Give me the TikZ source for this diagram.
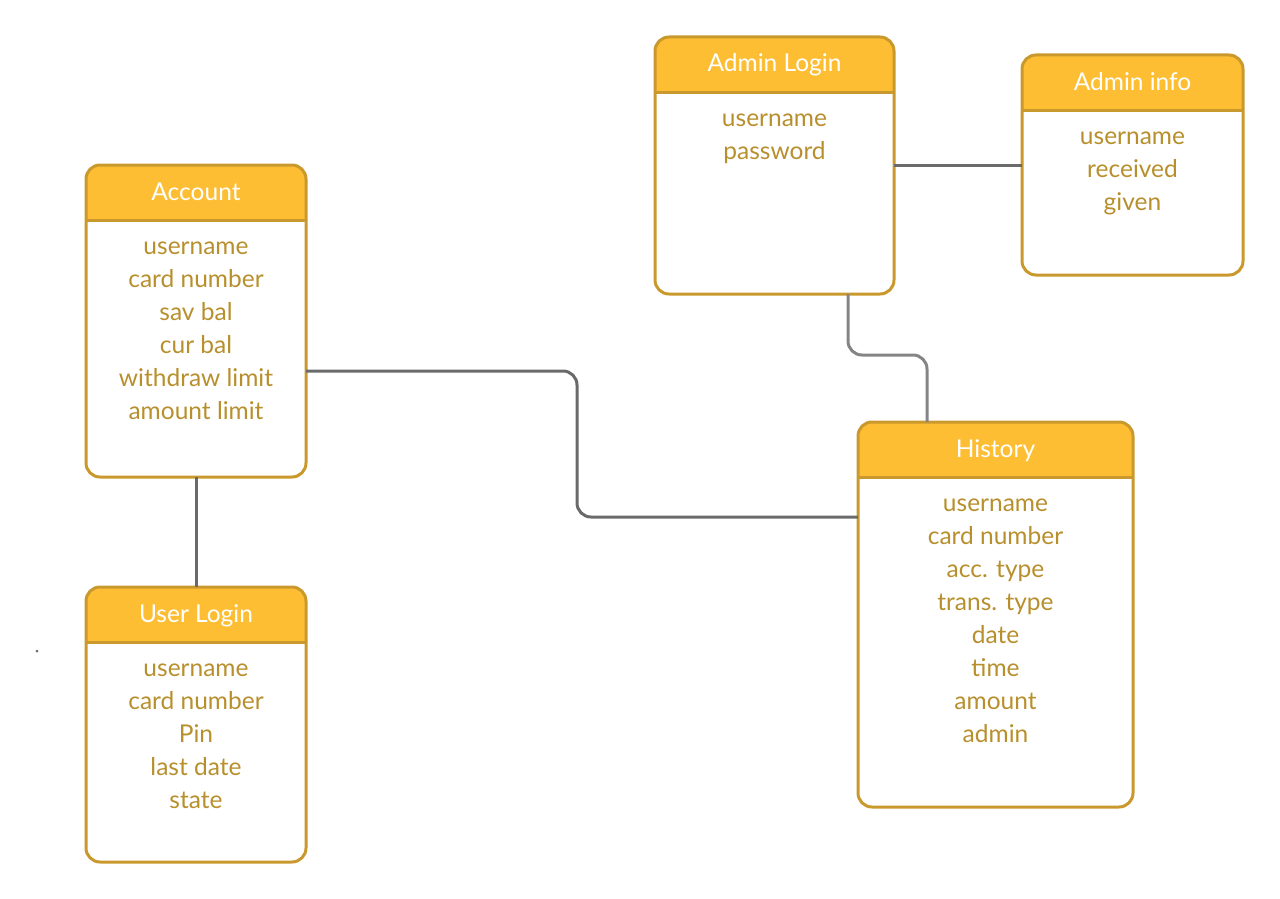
\documentclass[tikz,border=0pt]{standalone}
\usepackage{fontspec}
\setmainfont{Lato}
\usetikzlibrary{calc}
\definecolor{headyellow}{HTML}{FDBE33}
\definecolor{boxgold}{HTML}{C9992D}
\definecolor{textgold}{HTML}{B88F2D}
\definecolor{linkgray}{HTML}{6A6A6A}
\definecolor{linklight}{HTML}{858585}

\begin{document}
\begin{tikzpicture}[x=1pt, y=-1pt,
  entity/.style={rectangle, inner sep=0, outer sep=0},
  frame/.style={draw=boxgold, line width=3pt, rounded corners=14pt},
  title/.style={text=white, anchor=base, font=\fontsize{24.5}{28}\selectfont},
  field/.style={text=textgold, anchor=base, font=\fontsize{24.5}{28}\selectfont},
  link/.style={draw=linkgray, line width=3pt, rounded corners=14pt}]
\useasboundingbox (0,0) rectangle (1280,899);
% entities: name / centre / size / title / fields
\foreach \n/\cx/\cy/\w/\h/\t/\rows in {
  acc/196/321/220/312/Account/{username,card number,sav bal,cur bal,withdraw limit,amount limit},
  usr/196/724.5/220/275/User Login/{username,card number,Pin,last date,state},
  adl/774.5/165.5/239/257/Admin Login/{username,password},
  adi/1132.5/165/221/220/Admin info/{username,received,given},
  his/995.5/614.5/275/385/History/{username,card number,acc. type,trans. type,date,time,amount,admin}} {
  \node[entity, minimum width=\w, minimum height=\h] (\n) at (\cx,\cy) {};
  \begin{scope}
    \clip[rounded corners=14pt] (\n.south west) rectangle (\n.north east);
    \fill[headyellow] (\n.north west) rectangle ([yshift=-55pt]\n.north east);
  \end{scope}
  \draw[boxgold, line width=3pt] ([yshift=-55pt]\n.north west) -- ([yshift=-55pt]\n.north east);
  \draw[frame] (\n.south west) rectangle (\n.north east);
  \node[title] (\n-t) at ([yshift=-35pt]\n.north) {\t};
  \foreach \r [count=\i] in \rows
    \node[field] (\n-\i) at ([yshift={-89-33*(\i-1)}]\n.north) {\r};
}
% relations
\draw[link] (adl.east) -- (adl.east -| adi.west);
\draw[link, draw=linklight] ([xshift=73.5pt]adl.south) -- ++(0,61) -| ([xshift=-68.5pt]his.north);
\draw[link] ([yshift=-50pt]acc.east) -- ++(271,0) |- ([yshift=97.5pt]his.west);
\draw[link] (acc.south) -- (usr.north);
\fill[linkgray] (37,651) circle (1.5pt);
\end{tikzpicture}
\end{document}
